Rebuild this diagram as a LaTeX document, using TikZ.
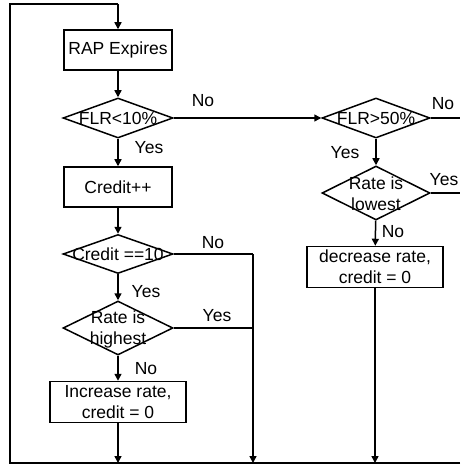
\documentclass[tikz,border=0pt]{standalone}
\usepackage{fontspec}
\setmainfont{Liberation Sans}
\usetikzlibrary{shapes.geometric,arrows.meta}
\begin{document}
\begin{tikzpicture}[x=1pt,y=-1pt,
  line width=1.5pt,
  every node/.style={font=\fontsize{17.5}{21}\selectfont},
  box/.style={draw,rectangle,inner sep=0pt,align=center},
  dia/.style={draw,diamond,inner sep=0pt},
  lbl/.style={inner sep=0pt},
  arr/.style={-{Triangle[length=7pt,width=7pt]}}
]
\useasboundingbox (0,0) rectangle (460,465);
% boxes
\node[box,minimum width=108pt,minimum height=40pt] (rap) at (118,50) {RAP Expires};
\node[dia,minimum width=110pt,minimum height=40pt] (d1) at (118,118) {};
\node[lbl] (t1) at (118,118) {FLR<10\%};
\node[box,minimum width=108pt,minimum height=40pt] (cr) at (118,187) {Credit++};
\node[dia,minimum width=110pt,minimum height=39pt] (d2) at (118,254) {};
\node[lbl] (t2) at (118,254) {Credit ==10};
\node[dia,minimum width=110pt,minimum height=54pt] (d3) at (118,328) {};
\node[lbl,align=center] (t3) at (118,329) {Rate is\\highest};
\node[box,minimum width=136pt,minimum height=41pt] (inc) at (118,402) {Increase rate,\\credit = 0};
\node[dia,minimum width=108pt,minimum height=40pt] (d4) at (376,118) {};
\node[lbl] (t4) at (376,118) {FLR>50\%};
\node[dia,minimum width=108pt,minimum height=54pt] (d5) at (376,193) {};
\node[lbl,align=center] (t5) at (376,194) {Rate is\\lowest};
\node[box,minimum width=136pt,minimum height=41pt] (dec) at (375,267) {decrease rate,\\credit = 0};
% coordinates
\coordinate (tl) at (10,4);
\coordinate (tr) at (118,4);
\coordinate (bl) at (10,463);
\coordinate (br) at (460,463);
\coordinate (b1) at (118,463);
\coordinate (mx) at (253,254);
\coordinate (my) at (253,328);
\coordinate (b2) at (253,463);
\coordinate (b3) at (375,463);
\coordinate (r1) at (460,118);
\coordinate (r2) at (460,193);
% connectors
\draw (br) -- (bl) -- (tl) -- (tr);
\draw[arr] (tr) -- (rap);
\draw[arr] (rap) -- (d1);
\draw[arr] (d1) -- (cr);
\draw[arr] (cr) -- (d2);
\draw[arr] (d2) -- (d3);
\draw[arr] (d3) -- (inc);
\draw[arr] (inc) -- (b1);
\draw (d2.east) -- (mx);
\draw (d3.east) -- (my);
\draw[arr] (mx) -- (b2);
\draw[arr] (d1.east) -- (d4.west);
\draw[arr] (d4) -- (d5);
\draw[arr] (d5) -- (dec);
\draw[arr] (dec) -- (b3);
\draw (d4.east) -- (r1);
\draw (d5.east) -- (r2);
% labels
\node[lbl] (n1) at (203,101) {No};
\node[lbl] (y1) at (149,148) {Yes};
\node[lbl] (n2) at (213,243) {No};
\node[lbl] (y2) at (146,292) {Yes};
\node[lbl] (y3) at (217,316) {Yes};
\node[lbl] (n3) at (146,369) {No};
\node[lbl] (y4) at (345,153) {Yes};
\node[lbl] (n4) at (443,104) {No};
\node[lbl,anchor=east] (y5) at (459,180) {Yes};
\node[lbl,anchor=west] (n5) at (381,232) {No};
\end{tikzpicture}
\end{document}
